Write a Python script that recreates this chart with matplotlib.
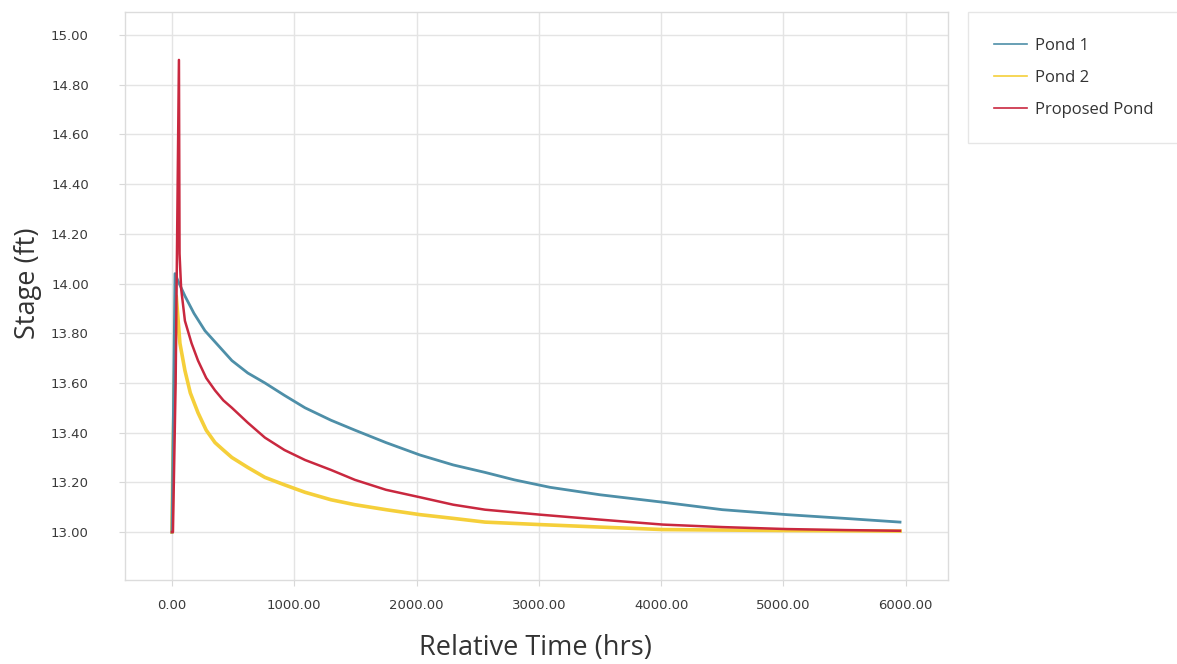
import matplotlib
matplotlib.use("Agg")
import matplotlib.pyplot as plt
from matplotlib.ticker import FuncFormatter

# Data
series_names = ["Pond 1", "Pond 2", "Proposed Pond"]

pond1_time = [0, 10, 25, 50, 106, 180, 270, 380, 490, 620, 760, 920, 1088, 1300, 1496,
              1750, 2028, 2300, 2560, 2800, 3091, 3500, 4015, 4500, 5029, 5500, 5953]
pond1_stage = [13.00, 13.40, 14.04, 14.01, 13.95, 13.88, 13.81, 13.75, 13.69, 13.64, 13.60, 13.55, 13.50, 13.45, 13.41,
               13.36, 13.31, 13.27, 13.24, 13.21, 13.18, 13.15, 13.12, 13.09, 13.07, 13.055, 13.04]

pond2_time = [0, 10, 35, 65, 106, 150, 213, 280, 352, 420, 490, 620, 760, 920, 1088, 1300, 1496,
              1750, 2028, 2300, 2560, 3009, 3500, 4015, 4500, 5029, 5500, 5953]
pond2_stage = [13.00, 13.35, 13.95, 13.76, 13.65, 13.56, 13.48, 13.41, 13.36, 13.33, 13.30, 13.26, 13.22, 13.19, 13.16, 13.13, 13.11,
               13.09, 13.07, 13.055, 13.04, 13.03, 13.02, 13.01, 13.008, 13.006, 13.005, 13.004]

prop_time = [0, 8, 30, 57, 62, 75, 106, 160, 213, 280, 352, 420, 490, 620, 760, 920, 1088, 1300, 1496,
             1750, 2028, 2300, 2560, 3009, 3500, 4015, 4500, 5029, 5500, 5953]
prop_stage = [13.00, 13.00, 13.60, 14.90, 14.12, 13.98, 13.85, 13.76, 13.69, 13.62, 13.57, 13.53, 13.50, 13.44, 13.38, 13.33, 13.29, 13.25, 13.21,
              13.17, 13.14, 13.11, 13.09, 13.07, 13.05, 13.03, 13.02, 13.012, 13.008, 13.005]

x_ticks = [0, 1000, 2000, 3000, 4000, 5000, 6000]
y_ticks = [13.0, 13.2, 13.4, 13.6, 13.8, 14.0, 14.2, 14.4, 14.6, 14.8, 15.0]

colors = ["#4e8fa8", "#f5cf3a", "#c9283f"]

fig = plt.figure(figsize=(11.77, 6.64), dpi=100)
ax = fig.add_axes([0.1062, 0.1265, 0.6992, 0.8555])

ax.plot(pond1_time, pond1_stage, color=colors[0], lw=2.0, label=series_names[0], zorder=3)
ax.plot(pond2_time, pond2_stage, color=colors[1], lw=2.6, label=series_names[1], zorder=2)
ax.plot(prop_time, prop_stage, color=colors[2], lw=1.8, label=series_names[2], zorder=4)

ax.set_xlim(-384, 6345)
ax.set_ylim(12.807, 15.093)
ax.set_xticks(x_ticks)
ax.set_yticks(y_ticks)
ax.xaxis.set_major_formatter(FuncFormatter(lambda v, p: f"{v:.2f}"))
ax.yaxis.set_major_formatter(FuncFormatter(lambda v, p: f"{v:.2f}"))

ax.grid(True, color="#e4e4e4", lw=1.0, zorder=0)
ax.set_axisbelow(True)
for s in ax.spines.values():
    s.set_color("#dcdcdc")
    s.set_linewidth(1.0)
ax.tick_params(axis="both", length=4, color="#d8d8d8", labelsize=9.5, labelcolor="#3a3a3a")
ax.tick_params(axis="y", pad=22)
ax.tick_params(axis="x", pad=10)

ax.set_xlabel("Relative Time (hrs)", fontsize=19.5, family="Open Sans", color="#333333", va="center")
ax.set_ylabel("Stage (ft)", fontsize=19.5, family="Open Sans", color="#333333", va="center")
ax.xaxis.set_label_coords((535 - 125) / 823.0, (580 - 648) / 568.0)
ax.yaxis.set_label_coords((28 - 125) / 823.0, (580 - 283) / 568.0)

leg_h = 0.2
leg = fig.legend(loc="upper left", bbox_to_anchor=(968 / 1177, 1 - 12 / 664 - leg_h, 0.19, leg_h), mode="expand",
                 frameon=True, prop={"family": "Open Sans", "size": 12},
                 handlelength=2.0, handletextpad=0.45, borderpad=1.55, labelspacing=0.95,
                 fancybox=False, edgecolor="#e0e0e0", borderaxespad=0)
for line in leg.get_lines():
    line.set_linewidth(1.2)
for t in leg.get_texts():
    t.set_color("#333333")
leg.get_frame().set_linewidth(1.0)

fig.savefig("out.png", dpi=100)
